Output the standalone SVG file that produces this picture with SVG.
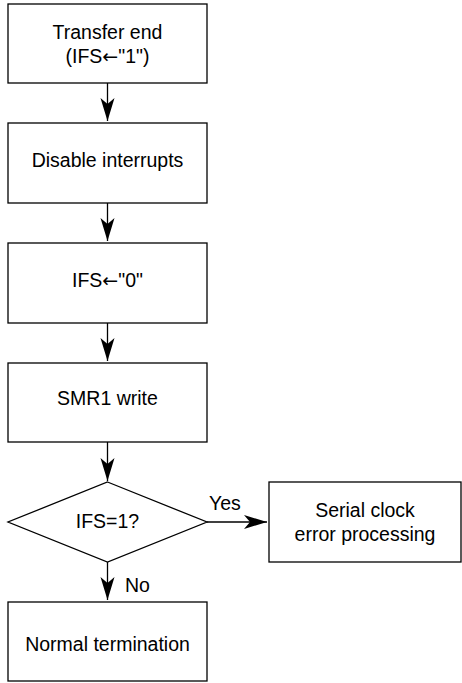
<svg xmlns="http://www.w3.org/2000/svg" width="462" height="683" viewBox="0 0 462 683">
<style>
.box{fill:#fff;stroke:#000;stroke-width:1.3}
.t{font-family:"Liberation Sans",Arial,sans-serif;font-size:19.5px;fill:#000;text-anchor:middle}
.l{font-family:"Liberation Sans",Arial,sans-serif;font-size:19.5px;fill:#000}
.ar{font-family:"DejaVu Sans",sans-serif;font-size:19px}
.c{stroke:#000;stroke-width:1.3;fill:none}
</style>
<defs>
<marker id="ah" markerUnits="userSpaceOnUse" markerWidth="26" markerHeight="16" viewBox="-23 -8 26 16" refX="0" refY="0" orient="auto">
<path d="M0,0 L-23,-7 L-17,0 L-23,7 Z" fill="#000"/>
</marker>
</defs>
<rect width="462" height="683" fill="#fff"/>
<g id="connectors">
<line class="c" x1="107.5" y1="83" x2="107.5" y2="121" marker-end="url(#ah)"/>
<line class="c" x1="107.5" y1="203" x2="107.5" y2="241" marker-end="url(#ah)"/>
<line class="c" x1="107.5" y1="323" x2="107.5" y2="361" marker-end="url(#ah)"/>
<line class="c" x1="107.5" y1="442" x2="107.5" y2="481" marker-end="url(#ah)"/>
<line class="c" x1="207" y1="522" x2="267" y2="522" marker-end="url(#ah)"/>
<line class="c" x1="107.5" y1="562" x2="107.5" y2="600" marker-end="url(#ah)"/>
<text class="l" x="209" y="510">Yes</text>
<text class="l" x="125" y="592">No</text>
</g>
<g id="n1">
<rect class="box" x="8" y="4" width="199" height="79"/>
<text class="t" x="107.5" y="39">Transfer end</text>
<text class="t" x="107.5" y="63">(IFS<tspan class="ar">←</tspan>"1")</text>
</g>
<g id="n2">
<rect class="box" x="8" y="123" width="199" height="80"/>
<text class="t" x="107.5" y="167">Disable interrupts</text>
</g>
<g id="n3">
<rect class="box" x="8" y="243" width="199" height="80"/>
<text class="t" x="107.5" y="287">IFS<tspan class="ar">←</tspan>"0"</text>
</g>
<g id="n4">
<rect class="box" x="8" y="363" width="199" height="79"/>
<text class="t" x="107.5" y="405">SMR1 write</text>
</g>
<g id="n5">
<polygon class="box" points="107.5,482 207,522 107.5,562 8,522"/>
<text class="t" x="107.5" y="528">IFS=1?</text>
</g>
<g id="n6">
<rect class="box" x="269" y="482" width="192" height="80"/>
<text class="t" x="365" y="517">Serial clock</text>
<text class="t" x="365" y="541">error processing</text>
</g>
<g id="n7">
<rect class="box" x="8" y="602" width="199" height="79"/>
<text class="t" x="107.5" y="651">Normal termination</text>
</g>
</svg>
